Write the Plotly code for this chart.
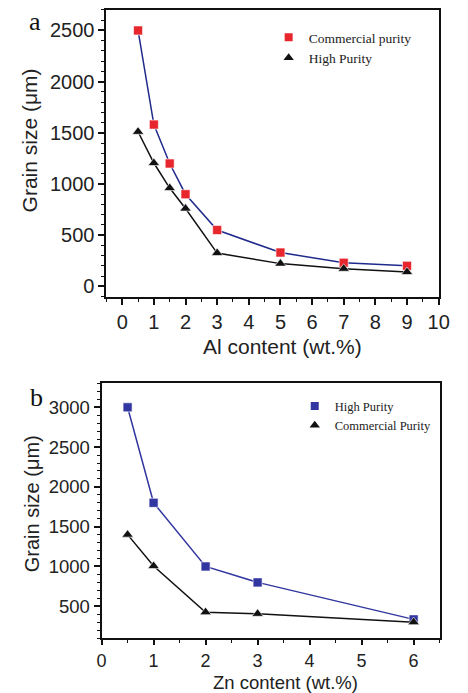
import plotly.graph_objects as go

W, H = 468, 693

# Panel a data
al_x = [0.5, 1, 1.5, 2, 3, 5, 7, 9]
al_cp = [2500, 1580, 1200, 900, 550, 330, 230, 200]
al_hp = [1510, 1205, 960, 760, 325, 222, 172, 140]

# Panel b data
zn_x = [0.5, 1, 2, 3, 6]
zn_hp = [3000, 1800, 1000, 800, 335]
zn_cp = [1400, 1005, 425, 405, 300]

al_ticks = list(range(0, 11))
al_yticks = [0, 500, 1000, 1500, 2000, 2500]
zn_ticks = list(range(0, 7))
zn_yticks = [500, 1000, 1500, 2000, 2500, 3000]

RED = "#e8262e"
NAVY = "#1f2a8c"
BLUE = "#3236a0"
BLACK = "#111111"

fig = go.Figure()

# Panel a lines
fig.add_trace(go.Scatter(x=al_x, y=al_cp, mode="lines+markers", xaxis="x", yaxis="y",
                         line=dict(color=NAVY, width=1.5),
                         marker=dict(symbol="square", size=9, color=RED, line=dict(color="white", width=0.6)),
                         showlegend=False))
fig.add_trace(go.Scatter(x=al_x, y=al_hp, mode="lines+markers", xaxis="x", yaxis="y",
                         line=dict(color=BLACK, width=1.5),
                         marker=dict(symbol="triangle-up", size=10, color=BLACK, line=dict(color="white", width=0.6)),
                         showlegend=False))
# Panel b lines
fig.add_trace(go.Scatter(x=zn_x, y=zn_hp, mode="lines+markers", xaxis="x2", yaxis="y2",
                         line=dict(color=BLUE, width=1.5),
                         marker=dict(symbol="square", size=9, color=BLUE, line=dict(color="white", width=0.6)),
                         showlegend=False))
fig.add_trace(go.Scatter(x=zn_x, y=zn_cp, mode="lines+markers", xaxis="x2", yaxis="y2",
                         line=dict(color=BLACK, width=1.5),
                         marker=dict(symbol="triangle-up", size=10, color=BLACK, line=dict(color="white", width=0.6)),
                         showlegend=False))

# Legend-only entries (markers only)
fig.add_trace(go.Scatter(x=[None], y=[None], mode="markers", xaxis="x", yaxis="y", name="Commercial purity",
                         marker=dict(symbol="square", size=8, color=RED), legend="legend", legendgroup="a1"))
fig.add_trace(go.Scatter(x=[None], y=[None], mode="markers", xaxis="x", yaxis="y", name="High Purity",
                         marker=dict(symbol="triangle-up", size=9, color=BLACK), legend="legend", legendgroup="a2"))
fig.add_trace(go.Scatter(x=[None], y=[None], mode="markers", xaxis="x2", yaxis="y2", name="High Purity",
                         marker=dict(symbol="square", size=8, color=BLUE), legend="legend2", legendgroup="b1"))
fig.add_trace(go.Scatter(x=[None], y=[None], mode="markers", xaxis="x2", yaxis="y2", name="Commercial Purity",
                         marker=dict(symbol="triangle-up", size=9, color=BLACK), legend="legend2", legendgroup="b2"))

def axis_common(size, ticklen=6):
    return dict(showline=True, linecolor=BLACK, linewidth=2, mirror=True, ticks="outside",
                ticklen=ticklen, tickwidth=1.5, tickcolor=BLACK, showgrid=False, zeroline=False,
                tickfont=dict(family="Liberation Sans, Arial", size=size, color="#222222"))

minor_x = dict(dtick=0.5, tick0=0, ticks="outside", ticklen=3, tickwidth=1.2, tickcolor=BLACK)
minor_y = dict(dtick=100, tick0=0, ticks="outside", ticklen=3, tickwidth=1.2, tickcolor=BLACK)

fig.update_layout(
    width=W, height=H, margin=dict(l=0, r=0, t=0, b=0),
    paper_bgcolor="white", plot_bgcolor="white",
    xaxis=dict(domain=[105/W, 449/W], anchor="y", range=[-0.5, 10], tickvals=al_ticks,
               minor=minor_x, **axis_common(20)),
    yaxis=dict(domain=[1-297/H, 1-10/H], anchor="x", range=[-100, 2700], tickvals=al_yticks,
               minor=minor_y, **axis_common(20)),
    xaxis2=dict(domain=[100/W, 450/W], anchor="y2", range=[0, 6.5], tickvals=zn_ticks,
                minor=minor_x, **axis_common(18, ticklen=5)),
    yaxis2=dict(domain=[1-639/H, 1-384/H], anchor="x2", range=[100, 3300], tickvals=zn_yticks,
                minor=minor_y, **axis_common(18.5)),
    legend=dict(x=273/W, y=1-22/H, xanchor="left", yanchor="top", bgcolor="rgba(0,0,0,0)",
                font=dict(family="Liberation Serif, Times New Roman", size=13.5, color="#222222"),
                itemwidth=30, tracegroupgap=0, traceorder="grouped"),
    legend2=dict(x=300/W, y=1-392/H, xanchor="left", yanchor="top", bgcolor="rgba(0,0,0,0)",
                 font=dict(family="Liberation Serif, Times New Roman", size=12.5, color="#222222"),
                 itemwidth=30, tracegroupgap=0, traceorder="grouped"),
)

def tf(size):
    return dict(family="Liberation Sans, Arial", size=size, color="#222222")

ann = [
    dict(text="Grain size (μm)", x=25/W, y=1-140.5/H, textangle=-90, font=tf(21)),
    dict(text="Al content (wt.%)", x=287/W, y=1-346.7/H, font=tf(21)),
    dict(text="Grain size (μm)", x=28/W, y=1-505/H, textangle=-90, font=tf(20)),
    dict(text="Zn content (wt.%)", x=290/W, y=1-683.5/H, font=tf(18.5)),
    dict(text="a", x=31/W, y=1-22/H, font=dict(family="Liberation Serif, Times New Roman", size=26, color="#111111")),
    dict(text="b", x=33/W, y=1-398/H, font=dict(family="Liberation Serif, Times New Roman", size=26, color="#111111")),
]
for a in ann:
    a.update(xref="paper", yref="paper", xanchor="center", yanchor="middle", showarrow=False)
fig.update_layout(annotations=ann)

fig.write_html("out.html")
